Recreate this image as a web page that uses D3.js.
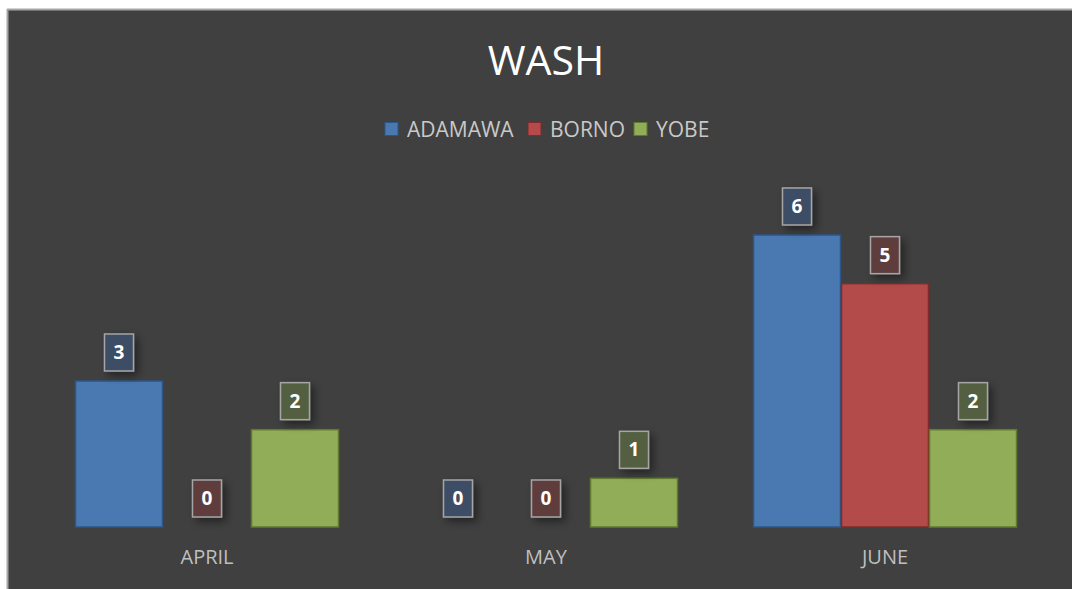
<!DOCTYPE html>
<html>
<head>
<meta charset="utf-8">
<script src="https://cdn.jsdelivr.net/npm/d3@7"></script>
<style>
body { margin:0; background:#ffffff; }
text { font-family: "Open Sans", sans-serif; }
</style>
</head>
<body>
<div id="chart"></div>
<script>
// data
var months = ["APRIL", "MAY", "JUNE"];
var states = ["ADAMAWA", "BORNO", "YOBE"];
var adamawa = [3, 0, 6];
var borno = [0, 0, 5];
var yobe = [2, 1, 2];

var fills = ["#4a78b0", "#b24b49", "#91ad57"];
var strokes = ["#2d5688", "#7e2b29", "#5f7a2e"];
var labelFills = ["#3d4e66", "#5e3d3d", "#535f3f"];

var svgWidth = 1072, svgHeight = 589;
var svg = d3.select("#chart").append("svg")
    .attr("width", svgWidth)
    .attr("height", svgHeight);

var defs = svg.append("defs");
var f = defs.append("filter").attr("id", "shadow")
    .attr("x", "-50%").attr("y", "-50%").attr("width", "200%").attr("height", "200%");
f.append("feDropShadow").attr("dx", 4).attr("dy", 4).attr("stdDeviation", 4)
    .attr("flood-color", "#000").attr("flood-opacity", 0.45);

// background panel
svg.append("rect").attr("x", 7).attr("y", 9).attr("width", svgWidth - 7).attr("height", svgHeight - 9)
    .attr("fill", "#404040");
svg.append("line").attr("x1", 7).attr("x2", svgWidth).attr("y1", 9.5).attr("y2", 9.5)
    .attr("stroke", "#a6a6a6").attr("stroke-width", 2);
svg.append("line").attr("x1", 7.5).attr("x2", 7.5).attr("y1", 9).attr("y2", svgHeight)
    .attr("stroke", "#a6a6a6").attr("stroke-width", 2);

// title
svg.append("text").attr("x", 546).attr("y", 75).attr("text-anchor", "middle")
    .attr("font-size", 41).attr("fill", "#ffffff").text("WASH");

// legend
var legendX = [385, 528, 634];
var legend = svg.append("g");
states.forEach(function(s, i) {
    legend.append("rect").attr("x", legendX[i]).attr("y", 122.5).attr("width", 13).attr("height", 13)
        .attr("fill", fills[i]).attr("stroke", strokes[i]).attr("stroke-width", 1);
    legend.append("text").attr("x", legendX[i] + 22).attr("y", 137)
        .attr("font-size", 21).attr("fill", "#c9c9c9").text(s);
});

// scales
var baseline = 527;
var x0 = d3.scaleBand().domain(months).range([37.5, 1054.5])
    .paddingInner(0.2212).paddingOuter(0.1106);
var x1 = d3.scaleBand().domain(states).range([0, x0.bandwidth()]);
var y = d3.scaleLinear().domain([0, 7]).range([baseline, baseline - 7 * 48.67]);

var rows = months.map(function(m, i) {
    return {month: m, values: [adamawa[i], borno[i], yobe[i]]};
});

var groups = svg.selectAll("g.month").data(rows).enter().append("g")
    .attr("class", "month")
    .attr("transform", d => `translate(${x0(d.month)},0)`);

groups.selectAll("rect.bar")
    .data(d => d.values.map((v, i) => ({state: states[i], value: v, idx: i})))
    .enter().append("rect")
    .attr("class", "bar")
    .filter(d => d.value > 0)
    .attr("x", d => x1(d.state) + 0.5)
    .attr("y", d => y(d.value))
    .attr("width", x1.bandwidth() - 1)
    .attr("height", d => baseline - y(d.value))
    .attr("fill", d => fills[d.idx])
    .attr("stroke", d => strokes[d.idx])
    .attr("stroke-width", 1.5);

// data labels
var lab = groups.selectAll("g.lab")
    .data(d => d.values.map((v, i) => ({state: states[i], value: v, idx: i})))
    .enter().append("g").attr("class", "lab")
    .attr("transform", d => `translate(${x1(d.state) + x1.bandwidth() / 2},${y(d.value) - 10})`);
lab.append("rect")
    .attr("x", -14.5).attr("y", -37).attr("width", 29).attr("height", 37)
    .attr("fill", d => labelFills[d.idx])
    .attr("stroke", "#a5a5a5").attr("stroke-width", 1.5)
    .attr("filter", "url(#shadow)");
lab.append("text")
    .attr("x", 0).attr("y", -12)
    .attr("text-anchor", "middle")
    .attr("font-size", 19).attr("font-weight", "bold")
    .attr("fill", "#ffffff")
    .text(d => d.value);

// category axis labels
var xAxis = d3.axisBottom(x0).tickSize(0).tickPadding(0);
var ax = svg.append("g").attr("transform", `translate(0,${baseline + 23})`).call(xAxis);
ax.select(".domain").remove();
ax.selectAll("text").attr("font-size", 20).attr("fill", "#bfbfbf")
    .attr("font-family", "Open Sans, sans-serif");
</script>
</body>
</html>
